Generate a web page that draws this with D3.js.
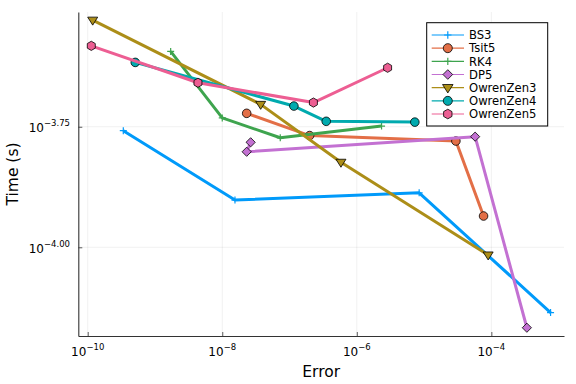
<!DOCTYPE html>
<html><head><meta charset="utf-8">
<script src="https://cdn.jsdelivr.net/npm/d3@7"></script>
<style>body{margin:0;background:#fff}svg{display:block}text{font-family:"DejaVu Sans",sans-serif}</style>
</head><body>
<svg id="c" width="576" height="384"></svg>
<script>
const seriesNames = ["BS3","Tsit5","RK4","DP5","OwrenZen3","OwrenZen4","OwrenZen5"];
const bs3Err  = [3.38e-10, 1.545e-8, 8.45e-6, 7.59e-4];
const bs3Time = [1.745e-4, 1.253e-4, 1.297e-4, 7.32e-5];
const tsit5Err  = [2.307e-8, 1.99e-7, 2.972e-5, 7.66e-5];
const tsit5Time = [1.896e-4, 1.705e-4, 1.661e-4, 1.161e-4];
const rk4Err  = [1.71e-9, 1.0e-8, 7.28e-8, 2.333e-6];
const rk4Time = [2.548e-4, 1.855e-4, 1.687e-4, 1.784e-4];
const dp5Err  = [2.642e-8, 2.307e-8, 5.74e-5, 3.373e-4];
const dp5Time = [1.651e-4, 1.578e-4, 1.696e-4, 6.81e-5];
const oz3Err  = [1.186e-10, 3.724e-8, 5.81e-7, 8.97e-5];
const oz3Time = [2.959e-4, 1.979e-4, 1.501e-4, 9.64e-5];
const oz4Err  = [5.09e-10, 1.161e-7, 3.51e-7, 7.29e-6];
const oz4Time = [2.418e-4, 1.963e-4, 1.825e-4, 1.818e-4];
const oz5Err  = [1.13e-10, 4.355e-9, 2.265e-7, 2.871e-6];
const oz5Time = [2.617e-4, 2.194e-4, 1.996e-4, 2.357e-4];
const xTickValues = [1e-10, 1e-8, 1e-6, 1e-4];
const xTickExps = ["\u221210", "\u22128", "\u22126", "\u22124"];
const yTickValues = [Math.pow(10,-3.75), Math.pow(10,-4.0)];
const yTickExps = ["\u22123.75", "\u22124.00"];

const errs = [bs3Err, tsit5Err, rk4Err, dp5Err, oz3Err, oz4Err, oz5Err];
const times = [bs3Time, tsit5Time, rk4Time, dp5Time, oz3Time, oz4Time, oz5Time];
const colors = ["#009AFA","#E36F47","#3EA44E","#C371D2","#AC8E18","#00AAAE","#ED5E93"];
const shapes = ["cross","circle","cross","diamond","dtriangle","circle","hexagon"];

const L = 78.3, R = 564, T = 12, B = 336;
const svg = d3.select("#c");
const x = d3.scaleLog().domain([Math.pow(10,-10.14), Math.pow(10,-2.92)]).range([L, R]);
const y = d3.scaleLog().domain([Math.pow(10,-4.184), Math.pow(10,-3.512)]).range([B, T]);

// grid
const g = svg.append("g");
g.selectAll(".gx").data(xTickValues).enter().append("line")
  .attr("x1", d=>x(d)).attr("x2", d=>x(d)).attr("y1", T).attr("y2", B)
  .attr("stroke", "#000").attr("stroke-opacity", 0.1).attr("stroke-width", 0.6);
g.selectAll(".gy").data(yTickValues).enter().append("line")
  .attr("y1", d=>y(d)).attr("y2", d=>y(d)).attr("x1", L).attr("x2", R)
  .attr("stroke", "#000").attr("stroke-opacity", 0.1).attr("stroke-width", 0.6);

// axes
const xAxis = d3.axisBottom(x).tickValues(xTickValues).tickSize(-4).tickSizeOuter(0).tickFormat(()=> "");
const yAxis = d3.axisLeft(y).tickValues(yTickValues).tickSize(-4).tickSizeOuter(0).tickFormat(()=> "");
const ax = svg.append("g").attr("transform", `translate(0,${B})`).call(xAxis);
const ay = svg.append("g").attr("transform", `translate(${L},0)`).call(yAxis);
[ax, ay].forEach(a => {
  a.select(".domain").attr("stroke", "#333").attr("stroke-width", 1.1);
  a.selectAll(".tick line").attr("stroke", "#333").attr("stroke-width", 0.8);
});
// x tick labels
xTickValues.forEach((v,i) => {
  const t = svg.append("text").attr("x", x(v)).attr("y", 356).attr("text-anchor","middle")
    .attr("font-size", 12).attr("fill", "#000");
  t.append("tspan").text("10");
  t.append("tspan").attr("dy", -6).attr("font-size", 8.5).text(xTickExps[i]);
});
yTickValues.forEach((v,i) => {
  const t = svg.append("text").attr("x", 70).attr("y", y(v)+5.5).attr("text-anchor","end")
    .attr("font-size", 12).attr("fill", "#000");
  t.append("tspan").text("10");
  t.append("tspan").attr("dy", -6).attr("font-size", 8.5).text(yTickExps[i]);
});
svg.append("text").attr("x", (L+R)/2).attr("y", 377).attr("text-anchor","middle")
  .attr("font-size", 15.5).text("Error");
svg.append("text").attr("transform", `translate(18,${(T+B)/2}) rotate(-90)`).attr("text-anchor","middle")
  .attr("font-size", 15.5).text("Time (s)");

function marker(sel, shape, color, cx, cy, s) {
  if (shape === "cross") {
    const r = 3.5*s;
    sel.append("path").attr("d", `M${cx-r},${cy}H${cx+r}M${cx},${cy-r}V${cy+r}`)
      .attr("stroke", color).attr("stroke-width", 1.2).attr("fill","none");
  } else if (shape === "circle") {
    sel.append("circle").attr("cx", cx).attr("cy", cy).attr("r", 4.3*s)
      .attr("fill", color).attr("stroke", "#000").attr("stroke-width", 0.8);
  } else if (shape === "diamond") {
    const r = 4.6*s;
    sel.append("path").attr("d", `M${cx},${cy-r}L${cx+r},${cy}L${cx},${cy+r}L${cx-r},${cy}Z`)
      .attr("fill", color).attr("stroke", "#000").attr("stroke-width", 0.8);
  } else if (shape === "dtriangle") {
    const r = 5*s;
    sel.append("path").attr("d", `M${cx-r},${cy-r*0.6}L${cx+r},${cy-r*0.6}L${cx},${cy+r*1.0}Z`)
      .attr("fill", color).attr("stroke", "#000").attr("stroke-width", 0.8);
  } else if (shape === "hexagon") {
    const r = 4.6*s;
    const pts = d3.range(6).map(k => {
      const a = Math.PI/6 + k*Math.PI/3;
      return [cx + r*Math.cos(a), cy + r*Math.sin(a)];
    });
    sel.append("path").attr("d", "M" + pts.map(p=>p.join(",")).join("L") + "Z")
      .attr("fill", color).attr("stroke", "#000").attr("stroke-width", 0.8);
  }
}

const line = d3.line().x(d=>x(d[0])).y(d=>y(d[1]));
const plot = svg.append("g");
seriesNames.forEach((name, i) => {
  const pts = errs[i].map((e,k)=>[e, times[i][k]]);
  const sg = plot.append("g");
  sg.append("path").attr("d", line(pts)).attr("fill","none").attr("stroke", colors[i])
    .attr("stroke-width", 3).attr("stroke-linejoin","round");
  pts.forEach(p => marker(sg, shapes[i], colors[i], x(p[0]), y(p[1]), 1));
});

// legend
const lg = svg.append("g");
const lx = 426.7, ly = 22.7, lw = 121, lh = 103.3;
lg.append("rect").attr("x", lx).attr("y", ly).attr("width", lw).attr("height", lh)
  .attr("fill", "#fff").attr("stroke", "#000").attr("stroke-width", 1);
seriesNames.forEach((name, i) => {
  const cy = 35 + i*13.17;
  lg.append("line").attr("x1", 431.7).attr("x2", 464).attr("y1", cy).attr("y2", cy)
    .attr("stroke", colors[i]).attr("stroke-width", 1.2);
  marker(lg, shapes[i], colors[i], 447.8, cy, 1.05);
  lg.append("text").attr("x", 469).attr("y", cy+4.2).attr("font-size", 11.6).text(name);
});
</script>
</body></html>
